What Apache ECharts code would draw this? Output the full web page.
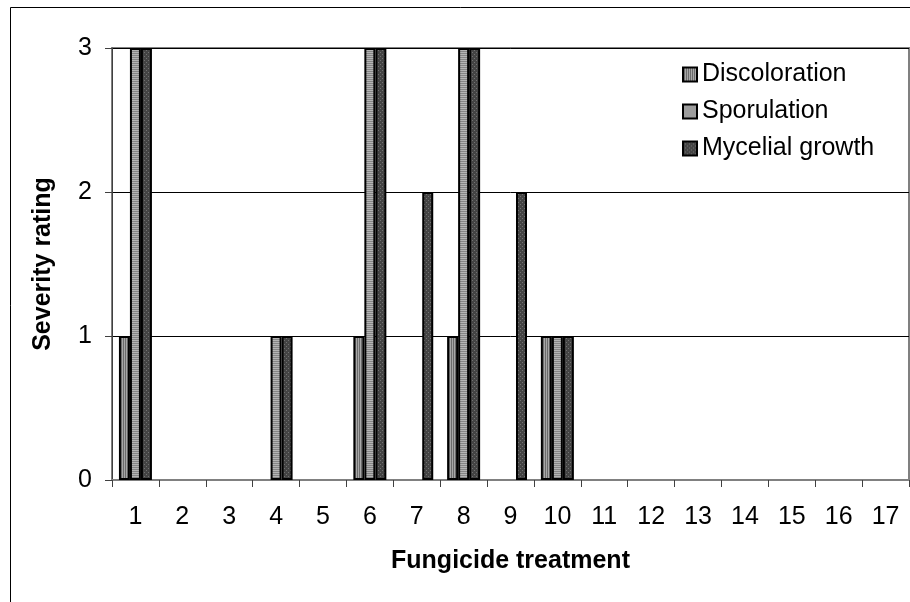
<!DOCTYPE html>
<html>
<head>
<meta charset="utf-8">
<script src="https://cdn.jsdelivr.net/npm/echarts@6/dist/echarts.min.js"></script>
<style>
html,body{margin:0;padding:0;background:#fff;}
#chart{width:910px;height:602px;}
</style>
</head>
<body>
<div id="chart"></div>
<script>
var categories = ['1','2','3','4','5','6','7','8','9','10','11','12','13','14','15','16','17'];
var discoloration = [1,0,0,0,0,1,0,1,0,1,0,0,0,0,0,0,0];
var sporulation   = [3,0,0,1,0,3,0,3,0,1,0,0,0,0,0,0,0];
var mycelial      = [3,0,0,1,0,3,2,3,2,1,0,0,0,0,0,0,0];
var yTicks = [0,1,2,3];

function makePattern(kind){
  var c = document.createElement('canvas');
  c.width = 4; c.height = 4;
  var g = c.getContext('2d');
  if (kind === 'v') {
    for (var x = 0; x < 4; x++) { g.fillStyle = (x % 2 === 0) ? '#a8a8a8' : '#6c6c6c'; g.fillRect(x,0,1,4); }
  } else if (kind === 'h') {
    for (var y = 0; y < 4; y++) { g.fillStyle = (y % 2 === 0) ? '#b4b4b4' : '#868686'; g.fillRect(0,y,4,1); }
  } else {
    g.fillStyle = '#444444'; g.fillRect(0,0,4,4);
    g.fillStyle = '#727272'; g.fillRect(0,0,1,1); g.fillRect(2,2,1,1);
  }
  return {image: c, repeat: 'repeat'};
}

var FONT = 'Liberation Sans, Arial, sans-serif';

function mkData(arr){
  return arr.map(function(v){
    return v === 0 ? {value: v, itemStyle: {borderWidth: 0}} : v;
  });
}

function mkSeries(name, arr, kind){
  return {
    name: name, type: 'bar', data: mkData(arr),
    barWidth: 11, barGap: '0%',
    itemStyle: {color: makePattern(kind), borderColor: '#000', borderWidth: 2},
    emphasis: {disabled: true}
  };
}

var chart = echarts.init(document.getElementById('chart'), null, {renderer: 'canvas'});
chart.setOption({
  animation: false,
  backgroundColor: '#fff',
  textStyle: {fontFamily: FONT, color: '#000'},
  grid: {left: 112, right: 1, top: 48, bottom: 122, show: true, borderColor: '#808080', borderWidth: 2, containLabel: false},
  graphic: [{
    type: 'rect', left: 8, top: 5, z: -10, silent: true,
    shape: {x: 0, y: 0, width: 920, height: 620},
    style: {fill: 'none', stroke: '#000', lineWidth: 1}
  }],
  legend: {
    orient: 'vertical', left: 677, top: 57, itemWidth: 14, itemHeight: 14, itemGap: 12,
    icon: 'rect',
    textStyle: {fontFamily: FONT, fontSize: 25, color: '#000'},
    data: ['Discoloration', 'Sporulation', 'Mycelial growth']
  },
  xAxis: {
    type: 'category', data: categories,
    name: 'Fungicide treatment', nameLocation: 'middle', nameGap: 69,
    nameTextStyle: {fontFamily: FONT, fontSize: 25, fontWeight: 'bold', color: '#000'},
    axisLine: {lineStyle: {color: '#808080', width: 2}},
    axisTick: {show: true, alignWithLabel: false, length: 7, inside: false, lineStyle: {color: '#404040', width: 1}},
    axisLabel: {fontFamily: FONT, fontSize: 25, color: '#000', margin: 25, interval: 0},
    splitLine: {show: false}
  },
  yAxis: {
    type: 'value', min: yTicks[0], max: yTicks[yTicks.length-1], interval: 1,
    name: 'Severity rating', nameLocation: 'middle', nameGap: 56,
    nameTextStyle: {fontFamily: FONT, fontSize: 25, fontWeight: 'bold', color: '#000'},
    axisLine: {show: true, lineStyle: {color: '#404040', width: 1}},
    axisTick: {show: true, length: 7, lineStyle: {color: '#404040', width: 1}},
    axisLabel: {fontFamily: FONT, fontSize: 25, color: '#000', margin: 20},
    splitLine: {show: true, lineStyle: {color: '#000', width: 1}}
  },
  series: [
    mkSeries('Discoloration', discoloration, 'v'),
    mkSeries('Sporulation', sporulation, 'h'),
    mkSeries('Mycelial growth', mycelial, 'd')
  ]
});
</script>
</body>
</html>
